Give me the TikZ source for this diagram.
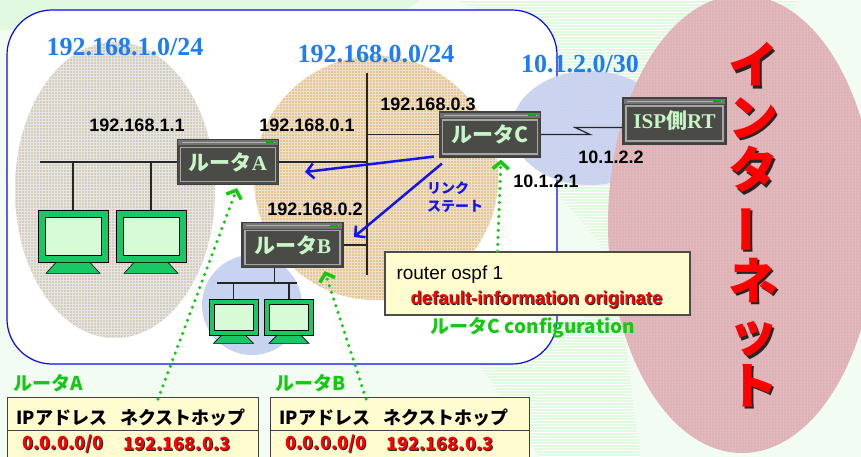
\documentclass[tikz,border=0pt]{standalone}
\usepackage{fontspec}
\setmainfont{Liberation Sans}
\newfontfamily\jp{Noto Sans CJK JP}
\newfontfamily\rmb{Liberation Serif}
\usetikzlibrary{arrows.meta,patterns,positioning}

\definecolor{bgbase}{RGB}{243,252,243}
\definecolor{bgpale}{RGB}{224,249,224}
\definecolor{lanedge}{RGB}{10,10,235}
\definecolor{netlbl}{RGB}{30,125,245}
\definecolor{burlap}{RGB}{214,204,186}
\definecolor{kraft}{RGB}{228,199,142}
\definecolor{mist}{RGB}{200,211,242}
\definecolor{rose}{RGB}{222,178,182}
\definecolor{rtrface}{RGB}{74,74,70}
\definecolor{rtrtext}{RGB}{200,245,200}
\definecolor{pcgreen}{RGB}{24,200,100}
\definecolor{pcscreen}{RGB}{215,250,215}
\definecolor{okgreen}{RGB}{20,200,20}
\definecolor{memo}{RGB}{255,253,208}
\definecolor{lsblue}{RGB}{20,20,230}

% red text with a dark drop shadow
\newcommand\shd[2][1pt]{\rlap{\kern#1\raisebox{-#1}{\color{black!85}#2}}#2}
% the internet, set vertically
\newcommand\inetword{\shd[2.5pt]{イ}\\\shd[2.5pt]{ン}\\\shd[2.5pt]{タ}\\
  \shd[2.5pt]{\rotatebox[origin=c]{90}{ー}}\\\shd[2.5pt]{ネ}\\\shd[2.5pt]{ッ}\\\shd[2.5pt]{ト}}

\tikzset{
  wire/.style={black!85, line width=1.2pt},
  netlabel/.style={text=netlbl, font=\rmb\fontsize{26}{26}\selectfont\bfseries},
  iplabel/.style={font=\fontsize{18}{18}\selectfont\bfseries},
  rtr/.style={rectangle, draw=black!75, line width=1.2pt, fill=rtrface,
    minimum width=101pt, minimum height=45pt, inner sep=0pt, text=rtrtext,
    font=\fontsize{21}{21}\selectfont\bfseries,
    path picture={
      \fill[black!55] (path picture bounding box.north west) rectangle ([yshift=-6pt]path picture bounding box.north east);
      \draw[black!30, line width=0.6pt] ([shift={(4pt,-3pt)}]path picture bounding box.north west) -- ([shift={(-4pt,-3pt)}]path picture bounding box.north east);
      \fill[green!70!black] ([shift={(-13pt,-2pt)}]path picture bounding box.north east) rectangle ([shift={(-5pt,-4pt)}]path picture bounding box.north east);
      \draw[black!35, line width=1.2pt] ([shift={(3pt,-8pt)}]path picture bounding box.north west) rectangle ([shift={(-3pt,3pt)}]path picture bounding box.south east);
    }},
  pcbig/.style={rectangle, draw=black, line width=0.8pt, fill=pcgreen,
    minimum width=70pt, minimum height=52pt, inner sep=0pt,
    path picture={\filldraw[fill=pcscreen, draw=black, line width=0.6pt]
      ([shift={(7pt,-7pt)}]path picture bounding box.north west) rectangle ([shift={(-7pt,7pt)}]path picture bounding box.south east);}},
  pcsmall/.style={rectangle, draw=black, line width=0.8pt, fill=pcgreen,
    minimum width=49pt, minimum height=36pt, inner sep=0pt,
    path picture={\filldraw[fill=pcscreen, draw=black, line width=0.6pt]
      ([shift={(5pt,-5pt)}]path picture bounding box.north west) rectangle ([shift={(-5pt,5pt)}]path picture bounding box.south east);}},
  pcbase/.style={fill=pcgreen, draw=black, line width=0.6pt},
  linkstate/.style={lsblue, line width=2.5pt, -{Straight Barb[length=7pt,width=15pt]}},
  cfgflow/.style={okgreen, line width=3.5pt, line cap=round, dash pattern=on 0pt off 7pt,
    -{Straight Barb[length=7pt,width=16pt]}},
  okname/.style={text=okgreen, font=\jp\fontsize{19}{19}\selectfont\bfseries},
  tblbox/.style={rectangle, draw=black!75, line width=1pt, fill=memo, inner sep=0pt,
    minimum height=80pt, anchor=north west},
  tblhead/.style={font=\jp\fontsize{18}{18}\selectfont\bfseries},
  tblrow/.style={text=red, font=\jp\fontsize{18}{18}\selectfont\bfseries},
}

\begin{document}
\begin{tikzpicture}[x=1pt, y=-1pt]
  \useasboundingbox (0,0) rectangle (861,457);
  \clip (0,0) rectangle (861,457);

  % backdrop
  \fill[bgbase] (0,0) rectangle (861,457);
  \fill[bgpale] (0,0) -- (420,0) -- (380,30) -- (0,30) -- cycle;
  \fill[bgpale] (455,0) -- (800,0) -- (612,258) -- (557,192) -- (557,40) -- cycle;
  \fill[pattern=horizontal lines, pattern color=white] (455,0) -- (800,0) -- (612,258) -- (557,192) -- (557,40) -- cycle;
  \fill[bgpale] (480,364) -- (620,300) -- (640,457) -- (540,457) -- cycle;
  \fill[pattern=horizontal lines, pattern color=white] (480,364) -- (620,300) -- (640,457) -- (540,457) -- cycle;

  % the site
  \draw[lanedge, fill=white, line width=1.2pt, rounded corners=45pt] (7,10) rectangle (557,364);

  % network areas
  \fill[burlap] (115,190) ellipse [x radius=100pt, y radius=148pt];
  \fill[pattern=grid, pattern color=black!10] (115,190) ellipse [x radius=100pt, y radius=148pt];
  \fill[kraft] (376,178) circle [radius=122pt];
  \fill[pattern=grid, pattern color=brown!25] (376,178) circle [radius=122pt];
  \fill[mist] (252,305) circle [radius=50pt];
  \fill[mist] (590,128) ellipse [x radius=78pt, y radius=57pt];
  \fill[pattern=dots, pattern color=red!15] (590,128) ellipse [x radius=78pt, y radius=57pt];
  \fill[rose] (742,224) ellipse [x radius=134pt, y radius=229pt];
  \fill[pattern=dots, pattern color=white!70!rose] (742,224) ellipse [x radius=134pt, y radius=229pt];

  \node[netlabel] (netA) at (125,47) {192.168.1.0/24};
  \node[netlabel] (netB) at (376,54) {192.168.0.0/24};
  \node[netlabel] (netW) at (580,64) {10.1.2.0/30};

  \node[align=center, text=red, font=\jp\fontsize{50}{52.5}\selectfont\bfseries] (inet) at (753,226) {\inetword};

  % routers
  \node[rtr] (RA) at (228,162) {{\jp ルータ}{\rmb A}};
  \node[rtr] (RB) at (292.5,245) {{\jp ルータ}{\rmb B}};
  \node[rtr] (RC) at (490,134.5) {{\jp ルータC}};
  \node[rtr, minimum width=103pt, minimum height=46pt] (ISP) at (674.5,121) {{\rmb ISP}{\jp 側}{\rmb RT}};

  % segment 192.168.0.0
  \coordinate (bbTop) at (367,73);
  \coordinate (bbBot) at (367,275);
  \draw[wire] (bbTop) -- (bbBot);
  \draw[wire] (RA.east) -- (RA.east -| bbTop);
  \draw[wire] (RC.west) -- (RC.west -| bbTop);
  \draw[wire] (RB.east) -- (RB.east -| bbTop);

  % serial line to the ISP
  \draw[wire] (RC.east) -- ++(49,0) -- ++(-15,-7) coordinate (isl) -- (isl -| ISP.west);

  % segment 192.168.1.0
  \node[pcbig] (pcA1) at (73,236) {};
  \node[pcbig] (pcA2) at (151,236) {};
  \coordinate (busA) at (40,162);
  \draw[wire] (busA) -- (RA.west);
  \draw[wire] (pcA1.north |- busA) -- (pcA1.north);
  \draw[wire] (pcA2.north |- busA) -- (pcA2.north);
  \foreach \p in {pcA1,pcA2}
    \filldraw[pcbase] ([xshift=-17pt]\p.south) -- ([xshift=17pt]\p.south) -- ([shift={(27pt,-11pt)}]\p.south) -- ([shift={(-27pt,-11pt)}]\p.south) -- cycle;

  % LAN behind router B
  \node[pcsmall] (pcB1) at (233.5,317) {};
  \node[pcsmall] (pcB2) at (289,317) {};
  \coordinate (busB) at (217,283);
  \draw[wire] ([xshift=-18pt]RB.south) -- ([xshift=-18pt]RB.south |- busB);
  \draw[wire] (busB) -- ++(80,0);
  \draw[wire] (pcB1.north |- busB) -- (pcB1.north);
  \draw[wire] (pcB2.north |- busB) -- (pcB2.north);
  \foreach \p in {pcB1,pcB2}
    \filldraw[pcbase] ([xshift=-12pt]\p.south) -- ([xshift=12pt]\p.south) -- ([shift={(20pt,-8pt)}]\p.south) -- ([shift={(-20pt,-8pt)}]\p.south) -- cycle;

  % addresses
  \node[iplabel] (ipA1) at (137,125) {192.168.1.1};
  \node[iplabel] (ipA0) at (307,125) {192.168.0.1};
  \node[iplabel] (ipC0) at (428,104) {192.168.0.3};
  \node[iplabel] (ipB0) at (315,209) {192.168.0.2};
  \node[iplabel] (ipISP) at (611,157) {10.1.2.2};
  \node[iplabel] (ipC1) at (546,181) {10.1.2.1};

  % link state flooding from router C
  \coordinate (lsA) at (305,172);
  \coordinate (lsB) at (354,237);
  \draw[linkstate] ([shift={(-5pt,1pt)}]RC.south west) -- (lsA);
  \draw[linkstate] ([shift={(3pt,-6pt)}]RC.south west) -- (lsB);
  \node[text=lsblue, align=left, font=\jp\fontsize{14}{18}\selectfont\bfseries] (ls) at (455,197) {リンク\\ステート};

  % router C config
  \node[rectangle, draw=black!70, line width=1.2pt, fill=memo, minimum width=305pt, minimum height=63pt] (cfg) at (537.5,283.5) {};
  \node[anchor=west, font=\fontsize{19}{19}\selectfont] (cfg1) at (393,275) {router ospf 1};
  \node[anchor=west, text=red, font=\fontsize{18.5}{18.5}\selectfont\bfseries] (cfg2) at (407,300) {\shd{default-information originate}};
  \node[okname] (cfgname) at (533,328) {ルータC configuration};
  \draw[cfgflow] ([xshift=-40pt]cfg.north) -- ([shift={(11pt,-2pt)}]RC.south);

  % routing tables of A and B
  \foreach \n/\l/\w in {A/7/251, B/270/259} {
    \node[tblbox, minimum width=\w pt] (tab\n) at (\l,397) {};
    \draw[black!75, line width=1pt] ([yshift=-33pt]tab\n.north west) -- ([yshift=-33pt]tab\n.north east);
    \node[okname] (name\n) at ([shift={(41pt,14pt)}]tab\n.north west) {ルータ\n};
    \node[tblhead] (ip\n) at ([shift={(55pt,-21pt)}]tab\n.north west) {IPアドレス};
    \node[tblhead] (hop\n) at ([shift={(176pt,-21pt)}]tab\n.north west) {ネクストホップ};
    \node[tblrow] (dst\n) at ([shift={(56pt,-47pt)}]tab\n.north west) {\shd{0.0.0.0/0}};
    \node[tblrow] (gw\n) at ([shift={(170pt,-47pt)}]tab\n.north west) {\shd{192.168.0.3}};
  }
  \draw[cfgflow] ([shift={(151pt,-2pt)}]tabA.north west) -- ([shift={(9pt,-3pt)}]RA.south);
  \draw[cfgflow] ([shift={(96pt,-2pt)}]tabB.north west) -- ([shift={(-19pt,-3pt)}]RB.south east);
\end{tikzpicture}
\end{document}
